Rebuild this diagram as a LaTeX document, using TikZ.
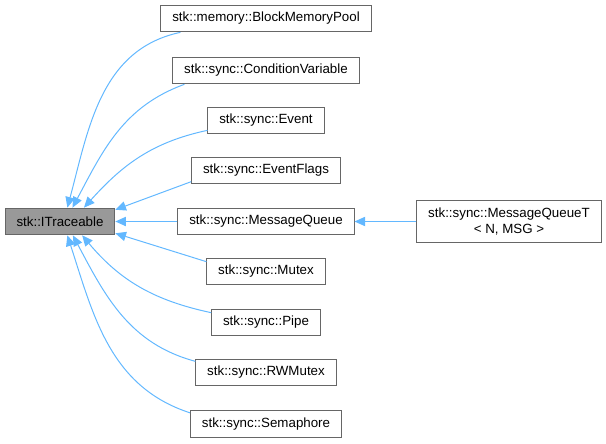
\documentclass[tikz,border=0pt]{standalone}
\usepackage{fontspec}
\setmainfont{Liberation Sans}
\usetikzlibrary{arrows.meta}
\definecolor{edgeblue}{HTML}{63B8FF}
\definecolor{boxline}{HTML}{666666}

\begin{document}
\begin{tikzpicture}[x=0.75pt, y=0.75pt,
    cls/.style={draw=boxline, line width=0.75pt, fill=white, font=\fontsize{10}{12}\selectfont,
        minimum height=20pt, inner xsep=8.5pt, inner ysep=2pt, align=center},
    base/.style={cls, fill=black!40},
    edge/.style={draw=edgeblue, line width=0.75pt, -{Triangle[length=8pt,width=7pt,fill=edgeblue]}}]
        \useasboundingbox (0,0) rectangle (606,-443);

        \node[base] (it) at (60,-221.5) {stk::ITraceable};
        \node[cls] (bmp) at (266,-18.5) {stk::memory::BlockMemoryPool};
        \node[cls] (cv) at (266,-70.5) {stk::sync::ConditionVariable};
        \node[cls] (ev) at (266,-120.5) {stk::sync::Event};
        \node[cls] (ef) at (266,-170.5) {stk::sync::EventFlags};
        \node[cls] (mq) at (266,-221.5) {stk::sync::MessageQueue};
        \node[cls] (mx) at (266,-271.5) {stk::sync::Mutex};
        \node[cls] (pp) at (266,-322.5) {stk::sync::Pipe};
        \node[cls] (rw) at (266,-372.5) {stk::sync::RWMutex};
        \node[cls] (sem) at (266,-424) {stk::sync::Semaphore};
        \node[cls, minimum height=31pt] (mqt) at (509,-221.5) {stk::sync::MessageQueueT\\{<} N, MSG {>}};

        \draw[edge] ([xshift=15pt]bmp.south west) to[out=192, in=75] (it.62);
        \draw[edge] ([xshift=9pt]cv.south west) to[out=200, in=62] (it.48);
        \draw[edge] ([yshift=3pt]ev.south west) to[out=192, in=48] (it.30);
        \draw[edge] ([yshift=2pt]ef.south west) -- (it.12);
        \draw[edge] (mq) -- (it);
        \draw[edge] ([yshift=-3pt]mx.north west) -- (it.-12);
        \draw[edge] ([yshift=-3pt]pp.north west) to[out=168, in=-50] (it.-32);
        \draw[edge] ([yshift=-2pt]rw.north west) to[out=165, in=-62] (it.-47);
        \draw[edge] ([yshift=-2pt]sem.north west) to[out=162, in=-72] (it.-62);
        \draw[edge] (mqt) -- (mq);
\end{tikzpicture}
\end{document}
